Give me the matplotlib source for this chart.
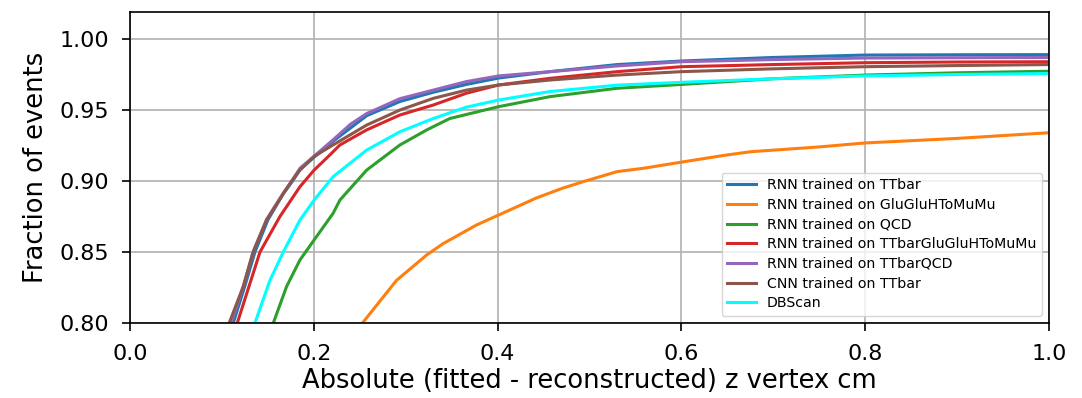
import matplotlib
matplotlib.use("Agg")
import matplotlib.pyplot as plt

# Cumulative fraction of events vs |fitted - reconstructed| z vertex (cm)
rnn_ttbar_x = [0.1124, 0.125, 0.136, 0.150, 0.1668, 0.177, 0.185, 0.2004, 0.221, 0.2576, 0.2938, 0.330, 0.366, 0.401, 0.457, 0.530, 0.600, 0.700, 0.800, 0.900, 1.000]
rnn_ttbar_y = [0.800, 0.826, 0.850, 0.8725, 0.891, 0.900, 0.908, 0.9168, 0.928, 0.946, 0.956, 0.9625, 0.968, 0.9725, 0.977, 0.982, 0.9845, 0.987, 0.9887, 0.9889, 0.9890]

rnn_gluglu_x = [0.253, 0.290, 0.323, 0.341, 0.377, 0.401, 0.442, 0.471, 0.493, 0.530, 0.559, 0.603, 0.646, 0.675, 0.750, 0.800, 0.900, 1.000]
rnn_gluglu_y = [0.800, 0.830, 0.848, 0.856, 0.869, 0.876, 0.888, 0.895, 0.8995, 0.9066, 0.909, 0.9136, 0.918, 0.9206, 0.924, 0.9268, 0.930, 0.934]

rnn_qcd_x = [0.156, 0.1705, 0.185, 0.2004, 0.221, 0.2285, 0.2576, 0.2938, 0.323, 0.348, 0.4008, 0.457, 0.530, 0.600, 0.700, 0.800, 0.900, 1.000]
rnn_qcd_y = [0.800, 0.8258, 0.8444, 0.8585, 0.8772, 0.8866, 0.9077, 0.9254, 0.936, 0.944, 0.9523, 0.9594, 0.9653, 0.968, 0.972, 0.9746, 0.9762, 0.9773]

rnn_ttbar_gluglu_x = [0.1168, 0.1415, 0.1632, 0.185, 0.2004, 0.2138, 0.2285, 0.2576, 0.2938, 0.330, 0.366, 0.401, 0.457, 0.530, 0.600, 0.700, 0.800, 0.900, 1.000]
rnn_ttbar_gluglu_y = [0.800, 0.850, 0.875, 0.896, 0.9077, 0.916, 0.9254, 0.936, 0.9465, 0.9535, 0.9618, 0.9676, 0.9723, 0.977, 0.9805, 0.982, 0.9833, 0.9838, 0.984]

rnn_ttbar_qcd_x = [0.110, 0.1235, 0.134, 0.1487, 0.1668, 0.176, 0.185, 0.2004, 0.221, 0.240, 0.2576, 0.2938, 0.330, 0.366, 0.401, 0.457, 0.530, 0.600, 0.700, 0.800, 0.900, 1.000]
rnn_ttbar_qcd_y = [0.800, 0.826, 0.850, 0.873, 0.8915, 0.900, 0.909, 0.9175, 0.929, 0.940, 0.9475, 0.958, 0.964, 0.970, 0.974, 0.977, 0.981, 0.984, 0.9855, 0.9866, 0.9868, 0.987]

cnn_ttbar_x = [0.108, 0.1233, 0.134, 0.1487, 0.1668, 0.176, 0.185, 0.2004, 0.221, 0.2576, 0.2938, 0.330, 0.366, 0.401, 0.457, 0.530, 0.600, 0.700, 0.800, 0.900, 1.000]
cnn_ttbar_y = [0.800, 0.8258, 0.850, 0.8725, 0.891, 0.900, 0.9077, 0.9173, 0.9254, 0.9394, 0.950, 0.9582, 0.964, 0.9676, 0.9711, 0.9746, 0.977, 0.979, 0.9805, 0.9813, 0.982]

dbscan_x = [0.136, 0.1523, 0.1668, 0.185, 0.2004, 0.221, 0.2576, 0.2938, 0.330, 0.366, 0.401, 0.457, 0.530, 0.600, 0.700, 0.800, 0.900, 1.000]
dbscan_y = [0.800, 0.830, 0.850, 0.8725, 0.8866, 0.903, 0.9218, 0.9347, 0.944, 0.952, 0.957, 0.963, 0.9675, 0.9695, 0.972, 0.974, 0.975, 0.9757]

series = [
    ("RNN trained on TTbar", rnn_ttbar_x, rnn_ttbar_y, "tab:blue"),
    ("RNN trained on GluGluHToMuMu", rnn_gluglu_x, rnn_gluglu_y, "tab:orange"),
    ("RNN trained on QCD", rnn_qcd_x, rnn_qcd_y, "tab:green"),
    ("RNN trained on TTbarGluGluHToMuMu", rnn_ttbar_gluglu_x, rnn_ttbar_gluglu_y, "tab:red"),
    ("RNN trained on TTbarQCD", rnn_ttbar_qcd_x, rnn_ttbar_qcd_y, "tab:purple"),
    ("CNN trained on TTbar", cnn_ttbar_x, cnn_ttbar_y, "tab:brown"),
    ("DBScan", dbscan_x, dbscan_y, "cyan"),
]

fig = plt.figure(figsize=(10.82, 3.98), dpi=100)
ax = fig.add_axes([0.1201, 0.1884, 0.8494, 0.7814])

for label, xs, ys, color in series:
    ax.plot(xs, ys, color=color, lw=2.2, label=label)

ax.set_xlim(0.0, 1.0)
ax.set_ylim(0.80, 1.019)
ax.set_xticks([0.0, 0.2, 0.4, 0.6, 0.8, 1.0])
ax.set_yticks([0.80, 0.85, 0.90, 0.95, 1.00])
ax.grid(True, color="#b0b0b0", lw=1.2)
for spine in ax.spines.values():
    spine.set_linewidth(1.2)
ax.tick_params(labelsize=16, length=5.8, width=1.2, pad=9)
ax.set_xlabel("Absolute (fitted - reconstructed) z vertex cm", fontsize=18.5, labelpad=3)
ax.set_ylabel("Fraction of events", fontsize=18.5, labelpad=8)
ax.legend(loc="lower right", fontsize=10.2, labelspacing=0.4)

fig.savefig("out.png", dpi=100)
